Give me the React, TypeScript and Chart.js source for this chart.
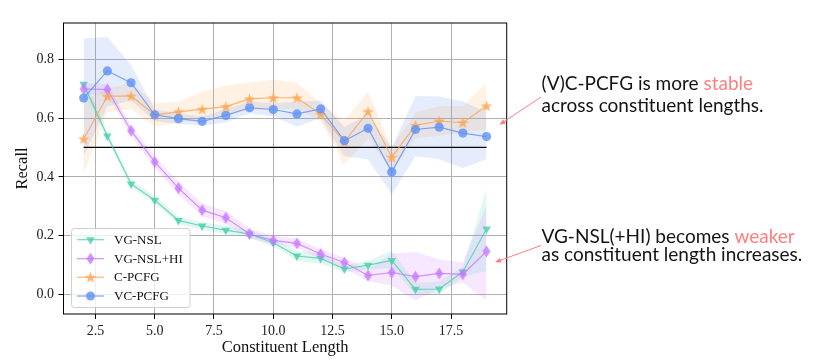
import React, { useEffect, useRef } from 'react';
import { Chart, registerables } from 'chart.js';
Chart.register(...registerables);

const lengths = [2, 3, 4, 5, 6, 7, 8, 9, 10, 11, 12, 13, 14, 15, 16, 17, 18, 19];
const xTicks = [2.5, 5.0, 7.5, 10.0, 12.5, 15.0, 17.5];
const yTicks = [0.0, 0.2, 0.4, 0.6, 0.8];
const seriesNames = ['VG-NSL', 'VG-NSL+HI', 'C-PCFG', 'VC-PCFG'];

const vgNsl = [0.715, 0.539, 0.376, 0.321, 0.252, 0.233, 0.219, 0.206, 0.176, 0.131, 0.123, 0.087, 0.100, 0.116, 0.018, 0.019, 0.077, 0.223];
const vgNslLow = [0.70, 0.525, 0.365, 0.31, 0.24, 0.22, 0.205, 0.195, 0.165, 0.115, 0.105, 0.075, 0.085, 0.09, 0.0, 0.0, 0.06, 0.08];
const vgNslHigh = [0.73, 0.555, 0.39, 0.335, 0.265, 0.245, 0.235, 0.22, 0.19, 0.15, 0.14, 0.10, 0.115, 0.15, 0.04, 0.045, 0.095, 0.36];

const vgNslHi = [0.699, 0.697, 0.557, 0.451, 0.362, 0.287, 0.261, 0.206, 0.184, 0.174, 0.138, 0.109, 0.065, 0.075, 0.061, 0.072, 0.069, 0.147];
const vgNslHiLow = [0.68, 0.68, 0.54, 0.43, 0.34, 0.265, 0.24, 0.19, 0.17, 0.16, 0.12, 0.09, 0.045, 0.03, -0.02, 0.02, 0.04, -0.02];
const vgNslHiHigh = [0.72, 0.715, 0.575, 0.47, 0.385, 0.31, 0.285, 0.225, 0.20, 0.19, 0.155, 0.125, 0.085, 0.14, 0.145, 0.12, 0.11, 0.30];

const cPcfg = [0.529, 0.674, 0.675, 0.611, 0.621, 0.630, 0.639, 0.665, 0.669, 0.669, 0.613, 0.519, 0.622, 0.467, 0.575, 0.590, 0.584, 0.641];
const cPcfgLow = [0.41, 0.62, 0.63, 0.57, 0.585, 0.595, 0.61, 0.625, 0.63, 0.63, 0.59, 0.44, 0.53, 0.42, 0.53, 0.54, 0.55, 0.56];
const cPcfgHigh = [0.66, 0.70, 0.72, 0.65, 0.656, 0.69, 0.71, 0.72, 0.73, 0.72, 0.65, 0.59, 0.69, 0.50, 0.62, 0.64, 0.64, 0.72];

const vcPcfg = [0.668, 0.760, 0.720, 0.611, 0.598, 0.589, 0.609, 0.635, 0.629, 0.614, 0.631, 0.523, 0.565, 0.417, 0.561, 0.569, 0.549, 0.537];
const vcPcfgLow = [0.47, 0.64, 0.66, 0.59, 0.58, 0.575, 0.585, 0.615, 0.605, 0.57, 0.60, 0.47, 0.46, 0.34, 0.47, 0.46, 0.43, 0.46];
const vcPcfgHigh = [0.87, 0.875, 0.78, 0.63, 0.615, 0.605, 0.63, 0.655, 0.65, 0.655, 0.66, 0.57, 0.61, 0.50, 0.675, 0.673, 0.656, 0.62];

const refLineX = [2, 19];
const refLineY = [0.5, 0.5];

const TEAL = [72, 207, 173];
const PURPLE = [200, 120, 255];
const ORANGE = [255, 165, 80];
const BLUE = [95, 145, 245];
const rgba = (c: number[], a: number) => `rgba(${c[0]},${c[1]},${c[2]},${a})`;

function makeStar(color: string) {
  const c = document.createElement('canvas');
  c.width = 13; c.height = 13;
  const g = c.getContext('2d')!;
  g.beginPath();
  for (let i = 0; i < 10; i++) {
    const r = i % 2 === 0 ? 6 : 2.5;
    const a = -Math.PI / 2 + (i * Math.PI) / 5;
    const px = 6.5 + r * Math.cos(a);
    const py = 7 + r * Math.sin(a);
    if (i === 0) g.moveTo(px, py); else g.lineTo(px, py);
  }
  g.closePath();
  g.fillStyle = color;
  g.fill();
  return c;
}

function makeDiamond(color: string) {
  const c = document.createElement('canvas');
  c.width = 9; c.height = 13;
  const g = c.getContext('2d')!;
  g.beginPath();
  g.moveTo(4.5, 0.5); g.lineTo(8.5, 6.5); g.lineTo(4.5, 12.5); g.lineTo(0.5, 6.5);
  g.closePath();
  g.fillStyle = color;
  g.fill();
  return c;
}

const pts = (ys: number[]) => lengths.map((x, i) => ({ x, y: ys[i] }));

function drawArrow(ctx: CanvasRenderingContext2D, x1: number, y1: number, x2: number, y2: number, color: string) {
  const ang = Math.atan2(y2 - y1, x2 - x1);
  ctx.save();
  ctx.strokeStyle = color; ctx.fillStyle = color; ctx.lineWidth = 1;
  ctx.beginPath(); ctx.moveTo(x1, y1); ctx.lineTo(x2 - 4 * Math.cos(ang), y2 - 4 * Math.sin(ang)); ctx.stroke();
  const L = 6, W = 2.5;
  ctx.beginPath();
  ctx.moveTo(x2, y2);
  ctx.lineTo(x2 - L * Math.cos(ang) + W * Math.sin(ang), y2 - L * Math.sin(ang) - W * Math.cos(ang));
  ctx.lineTo(x2 - L * Math.cos(ang) - W * Math.sin(ang), y2 - L * Math.sin(ang) + W * Math.cos(ang));
  ctx.closePath(); ctx.fill();
  ctx.restore();
}

function drawRich(ctx: CanvasRenderingContext2D, parts: [string, string][], x: number, y: number) {
  let cx = x;
  for (const [t, col] of parts) {
    ctx.fillStyle = col;
    ctx.fillText(t, cx, y);
    cx += ctx.measureText(t).width;
  }
}

export default function App() {
  const ref = useRef<HTMLCanvasElement>(null);
  useEffect(() => {
    document.body.style.margin = '0';
    const star = makeStar(rgba(ORANGE, 0.8));
    const diamond = makeDiamond(rgba(PURPLE, 0.8));

    const markers: any[] = [
      { style: 'triangle', rot: 180, color: TEAL },
      { style: diamond, rot: 0, color: PURPLE },
      { style: star, rot: 0, color: ORANGE },
      { style: 'circle', rot: 0, color: BLUE },
    ];

    const overlay = {
      id: 'overlay',
      afterDatasetsDraw(chart: any) {
        const ctx: CanvasRenderingContext2D = chart.ctx;
        const { left, right, top, bottom } = chart.chartArea;
        ctx.save();
        // legend box
        const lx = 71.5, ly = 228.5, lw = 118.5, lh = 79;
        ctx.beginPath();
        (ctx as any).roundRect(lx, ly, lw, lh, 3);
        ctx.fillStyle = 'rgba(255,255,255,0.8)';
        ctx.fill();
        ctx.strokeStyle = '#d0d0d0';
        ctx.lineWidth = 1;
        ctx.stroke();
        const rows = [239.7, 258.7, 277.2, 296];
        ctx.font = '13px "Liberation Serif"';
        ctx.textBaseline = 'middle';
        ctx.textAlign = 'left';
        rows.forEach((ry, i) => {
          const m = markers[i];
          ctx.strokeStyle = rgba(m.color, 0.8);
          ctx.lineWidth = 1.2;
          ctx.beginPath(); ctx.moveTo(77, ry); ctx.lineTo(104, ry); ctx.stroke();
          const mx = 90.5;
          ctx.fillStyle = rgba(m.color, 0.8);
          if (m.style === 'triangle') {
            const r = 5;
            ctx.beginPath();
            ctx.moveTo(mx, ry + r);
            ctx.lineTo(mx + r * Math.sin(Math.PI * 2 / 3), ry - r / 2);
            ctx.lineTo(mx - r * Math.sin(Math.PI * 2 / 3), ry - r / 2);
            ctx.closePath(); ctx.fill();
          } else if (m.style === 'circle') {
            ctx.beginPath(); ctx.arc(mx, ry, 4.5, 0, Math.PI * 2); ctx.fill();
          } else {
            const img = m.style as HTMLCanvasElement;
            ctx.drawImage(img, mx - img.width / 2, ry - img.height / 2);
          }
          ctx.fillStyle = '#111';
          ctx.fillText(seriesNames[i], 114, ry + 0.5);
        });
        // frame
        ctx.strokeStyle = '#000';
        ctx.lineWidth = 1;
        ctx.strokeRect(left, top, right - left, bottom - top);
        ctx.restore();
      },
      afterDraw(chart: any) {
        const ctx: CanvasRenderingContext2D = chart.ctx;
        ctx.save();
        const salmon = '#ff7f7f';
        drawArrow(ctx, 541, 97, 499.5, 124.7, salmon);
        drawArrow(ctx, 541, 245.5, 495, 262.3, salmon);
        ctx.font = '19px Lato';
        ctx.textBaseline = 'alphabetic';
        ctx.textAlign = 'left';
        const dark = '#141414';
        drawRich(ctx, [['(V)C-PCFG is more ', dark], ['stable', salmon]], 541.5, 90);
        drawRich(ctx, [['across constituent lengths.', dark]], 541.5, 111.5);
        drawRich(ctx, [['VG-NSL(+HI) becomes ', dark], ['weaker', salmon]], 541.5, 242.5);
        drawRich(ctx, [['as constituent length increases.', dark]], 541.5, 261);
        ctx.restore();
      },
    };

    const band = (hi: number[], lo: number[], c: number[]) => [
      { data: pts(hi), borderWidth: 0, pointRadius: 0, fill: '+1', backgroundColor: rgba(c, 0.16), borderColor: 'transparent', order: 20 },
      { data: pts(lo), borderWidth: 0, pointRadius: 0, fill: false, borderColor: 'transparent', order: 20 },
    ];
    const line = (ys: number[], idx: number, radius: number) => ({
      data: pts(ys),
      borderColor: rgba(markers[idx].color, 0.8),
      backgroundColor: rgba(markers[idx].color, 0.8),
      pointBackgroundColor: rgba(markers[idx].color, 0.8),
      pointBorderColor: rgba(markers[idx].color, 0.8),
      pointBorderWidth: 0,
      borderWidth: 1.2,
      pointStyle: markers[idx].style,
      pointRotation: markers[idx].rot,
      pointRadius: radius,
      fill: false,
      order: 5 - idx,
    });

    const chart = new Chart(ref.current!, {
      type: 'line',
      data: {
        datasets: [
          ...band(vcPcfgHigh, vcPcfgLow, BLUE),
          ...band(cPcfgHigh, cPcfgLow, ORANGE),
          ...band(vgNslHiHigh, vgNslHiLow, PURPLE),
          ...band(vgNslHigh, vgNslLow, TEAL),
          {
            data: refLineX.map((x, i) => ({ x, y: refLineY[i] })),
            borderColor: '#000', borderWidth: 1.2, pointRadius: 0, fill: false, order: 10,
          },
          line(vgNsl, 0, 5),
          line(vgNslHi, 1, 6),
          line(cPcfg, 2, 6),
          line(vcPcfg, 3, 4.6),
        ] as any,
      },
      options: {
        animation: false,
        responsive: false,
        devicePixelRatio: 1,
        events: [],
        layout: { padding: { left: 0, right: 322.3, top: 23, bottom: 0 } },
        plugins: {
          legend: { display: false },
          tooltip: { enabled: false },
          filler: { drawTime: 'beforeDatasetsDraw' } as any,
        },
        scales: {
          x: {
            type: 'linear',
            min: 1.15,
            max: 19.85,
            afterBuildTicks: (s: any) => { s.ticks = xTicks.map((v) => ({ value: v })); },
            afterFit: (s: any) => { s.height = 49; },
            border: { display: false },
            grid: { color: '#b0b0b0', lineWidth: 1, tickColor: '#000', tickLength: 5, drawTicks: true },
            ticks: {
              padding: 4,
              color: '#222',
              font: { family: 'Liberation Serif', size: 14 },
              callback: (v: any) => Number(v).toFixed(1),
              maxRotation: 0,
              autoSkip: false,
            },
            title: {
              display: true,
              text: 'Constituent Length',
              color: '#111',
              font: { family: 'Liberation Serif', size: 16.5 },
              padding: { top: 0, bottom: 5 },
            },
          },
          y: {
            type: 'linear',
            min: -0.066,
            max: 0.923,
            afterBuildTicks: (s: any) => { s.ticks = yTicks.map((v) => ({ value: v })); },
            afterFit: (s: any) => { s.width = 63.5; },
            border: { display: false },
            grid: { color: '#b0b0b0', lineWidth: 1, tickColor: '#000', tickLength: 5, drawTicks: true },
            ticks: {
              padding: 4.5,
              color: '#222',
              font: { family: 'Liberation Serif', size: 14 },
              callback: (v: any) => Number(v).toFixed(1),
              autoSkip: false,
            },
            title: {
              display: true,
              text: 'Recall',
              color: '#111',
              font: { family: 'Liberation Serif', size: 16.5 },
              padding: { top: 13, bottom: 0 },
            },
          },
        },
      },
      plugins: [overlay],
    });
    return () => chart.destroy();
  }, []);
  return (
    <div style={{ width: 829, height: 363 }}>
      <canvas ref={ref} width={829} height={363} style={{ display: 'block' }} />
    </div>
  );
}
